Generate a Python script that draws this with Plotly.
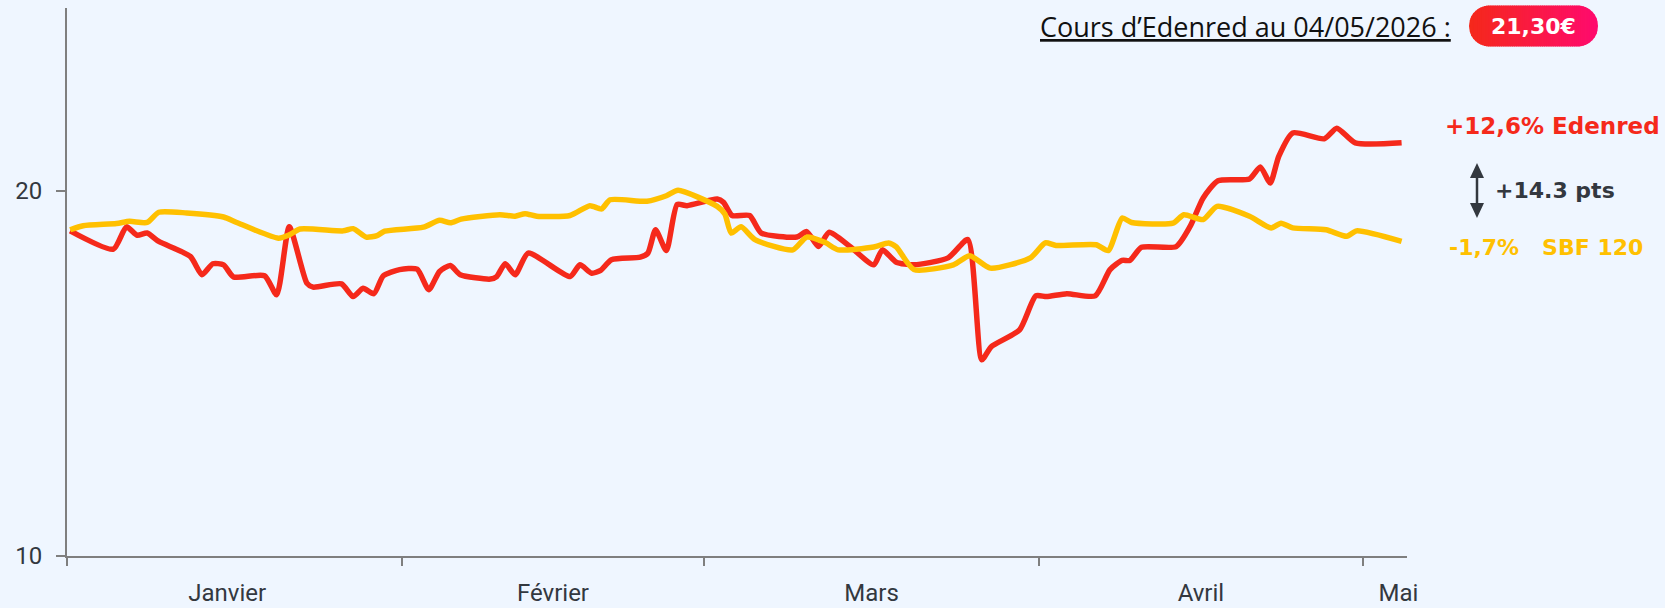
import plotly.graph_objects as go

# ---------------- data ----------------
red_dates = [
    "2026-01-01 07:00", "2026-01-05 07:00", "2026-01-06 12:00", "2026-01-07 12:00", "2026-01-08 10:00", "2026-01-09 12:00",
    "2026-01-12 10:00", "2026-01-13 12:00", "2026-01-14 12:00", "2026-01-15 12:00", "2026-01-16 10:00",
    "2026-01-19 07:00", "2026-01-20 10:00", "2026-01-21 14:00", "2026-01-23 05:00", "2026-01-23 19:00",
    "2026-01-26 10:00", "2026-01-27 12:00", "2026-01-28 10:00", "2026-01-29 10:00", "2026-01-30 07:00", "2026-01-31 19:00",
    "2026-02-02 10:00", "2026-02-03 12:00", "2026-02-04 12:00", "2026-02-05 12:00", "2026-02-06 10:00",
    "2026-02-09 05:00", "2026-02-09 19:00", "2026-02-10 14:00", "2026-02-11 12:00", "2026-02-12 17:00",
    "2026-02-16 14:00", "2026-02-17 12:00", "2026-02-18 14:00", "2026-02-19 10:00", "2026-02-20 10:00",
    "2026-02-23 02:00", "2026-02-23 19:00", "2026-02-24 12:00", "2026-02-25 12:00", "2026-02-26 12:00", "2026-02-27 10:00",
    "2026-03-02 05:00", "2026-03-02 19:00", "2026-03-03 14:00", "2026-03-05 05:00", "2026-03-06 07:00",
    "2026-03-09 14:00", "2026-03-10 12:00", "2026-03-11 14:00", "2026-03-12 14:00", "2026-03-14 12:00",
    "2026-03-16 17:00", "2026-03-17 12:00", "2026-03-18 19:00", "2026-03-20 10:00",
    "2026-03-23 14:00", "2026-03-25 10:00", "2026-03-26 17:00", "2026-03-27 14:00", "2026-03-30 05:00", "2026-03-31 17:00",
    "2026-04-01 17:00", "2026-04-03 14:00", "2026-04-06 05:00", "2026-04-07 14:00", "2026-04-08 17:00", "2026-04-09 10:00", "2026-04-10 12:00",
    "2026-04-13 17:00", "2026-04-15 00:00", "2026-04-16 05:00", "2026-04-17 14:00",
    "2026-04-20 12:00", "2026-04-21 12:00", "2026-04-22 10:00", "2026-04-23 05:00", "2026-04-24 12:00",
    "2026-04-27 10:00", "2026-04-28 14:00", "2026-04-30 07:00", "2026-05-04 14:00",
]
red_values = [
    18.90, 18.40, 19.01, 18.78, 18.84, 18.61,
    18.20, 17.70, 18.00, 17.97, 17.64,
    17.67, 17.15, 19.01, 17.47, 17.36,
    17.45, 17.10, 17.33, 17.18, 17.67, 17.84,
    17.85, 17.29, 17.79, 17.95, 17.70,
    17.58, 17.65, 18.00, 17.70, 18.29,
    17.65, 17.97, 17.74, 17.82, 18.11,
    18.18, 18.29, 18.93, 18.36, 19.62, 19.59,
    19.77, 19.68, 19.32, 19.32, 18.84,
    18.73, 18.88, 18.47, 18.86, 18.47,
    17.97, 18.38, 18.04, 17.97,
    18.16, 18.66, 15.37, 15.73, 16.19, 17.12,
    17.10, 17.18, 17.12, 17.84, 18.09, 18.09, 18.45,
    18.47, 19.02, 19.80, 20.27,
    20.32, 20.65, 20.21, 20.94, 21.58,
    21.42, 21.71, 21.31, 21.31,
]

sbf_dates = [
    "2026-01-01 07:00", "2026-01-02 12:00", "2026-01-05 14:00", "2026-01-06 19:00", "2026-01-08 10:00", "2026-01-09 12:00",
    "2026-01-12 02:00", "2026-01-15 12:00", "2026-01-16 17:00", "2026-01-20 14:00", "2026-01-21 14:00", "2026-01-22 14:00",
    "2026-01-26 14:00", "2026-01-27 12:00", "2026-01-28 17:00", "2026-01-29 17:00", "2026-01-30 10:00",
    "2026-02-03 00:00", "2026-02-04 12:00", "2026-02-05 12:00", "2026-02-06 12:00",
    "2026-02-10 02:00", "2026-02-11 12:00", "2026-02-12 10:00", "2026-02-13 12:00",
    "2026-02-16 14:00", "2026-02-18 10:00", "2026-02-19 12:00", "2026-02-20 07:00",
    "2026-02-23 17:00", "2026-02-25 12:00", "2026-02-26 14:00",
    "2026-03-02 05:00", "2026-03-02 22:00", "2026-03-03 12:00", "2026-03-04 10:00", "2026-03-05 17:00",
    "2026-03-09 05:00", "2026-03-10 12:00", "2026-03-12 05:00", "2026-03-13 10:00",
    "2026-03-16 17:00", "2026-03-18 02:00", "2026-03-18 19:00", "2026-03-20 10:00",
    "2026-03-24 02:00", "2026-03-25 14:00", "2026-03-27 12:00", "2026-03-31 05:00",
    "2026-04-01 14:00", "2026-04-02 14:00", "2026-04-06 07:00", "2026-04-07 10:00", "2026-04-08 17:00", "2026-04-09 14:00",
    "2026-04-13 10:00", "2026-04-14 10:00", "2026-04-16 05:00", "2026-04-17 12:00",
    "2026-04-20 12:00", "2026-04-22 12:00", "2026-04-23 10:00", "2026-04-24 12:00",
    "2026-04-27 14:00", "2026-04-29 12:00", "2026-04-30 10:00", "2026-05-04 14:00",
]
sbf_values = [
    18.93, 19.04, 19.10, 19.16, 19.13, 19.41,
    19.39, 19.28, 19.13, 18.70, 18.79, 18.95,
    18.90, 18.96, 18.73, 18.77, 18.89,
    19.00, 19.19, 19.12, 19.22,
    19.34, 19.30, 19.37, 19.30,
    19.32, 19.59, 19.50, 19.75,
    19.71, 19.86, 20.01,
    19.57, 19.36, 18.84, 19.01, 18.66,
    18.38, 18.73, 18.58, 18.38,
    18.46, 18.57, 18.46, 17.84,
    17.97, 18.22, 17.88, 18.16,
    18.57, 18.50, 18.52, 18.36, 19.25, 19.13,
    19.11, 19.34, 19.21, 19.57,
    19.30, 18.98, 19.11, 18.98,
    18.93, 18.75, 18.90, 18.61,
]

month_starts = ["2026-01-01", "2026-02-01", "2026-03-01", "2026-04-01", "2026-05-01"]
month_labels = ["Janvier", "Février", "Mars", "Avril", "Mai"]
month_label_pos = ["2026-01-15 20:00", "2026-02-15 00:00", "2026-03-16 12:00", "2026-04-16 00:00", "2026-05-04 07:00"]
y_ticks = [10, 20]

title_text = "Cours d’Edenred au 04/05/2026 :"
price_text = "21,30€"
edenred_label = "+12,6% Edenred"
gap_label = "+14.3 pts"
sbf_label = "-1,7%   SBF 120"

# ---------------- style ----------------
W, H = 1665, 608
ML, MR, MT, MB = 67, 258, 8, 52
PW, PH = W - ML - MR, H - MT - MB
BG = "#EFF6FF"
RED = "#F5291B"
YEL = "#FFC000"
DARK = "#33383F"
AXIS = "#7F7F7F"


def px(xp):
    return (xp - ML) / PW


def py(yp):
    return (H - MB - yp) / PH


def ppath(points):
    return "M " + " L ".join(f"{px(a):.5f},{py(b):.5f}" for a, b in points) + " Z"


fig = go.Figure()
fig.add_trace(go.Scatter(x=red_dates, y=red_values, mode="lines",
                         line=dict(color=RED, width=5.5, shape="spline", smoothing=0.6),
                         hoverinfo="skip", showlegend=False))
fig.add_trace(go.Scatter(x=sbf_dates, y=sbf_values, mode="lines",
                         line=dict(color=YEL, width=5.5, shape="spline", smoothing=0.6),
                         hoverinfo="skip", showlegend=False))

shapes = []
# gradient pill
x0, x1, y0, y1 = 1469.0, 1598.0, 5.5, 46.5
r = (y1 - y0) / 2
cy = (y0 + y1) / 2
c_left = (245, 40, 26)
c_right = (255, 10, 110)
N = 60
step = (x1 - x0) / N


def half_h(x):
    if x < x0 + r:
        d = x0 + r - x
        return max(0.0, (r * r - d * d)) ** 0.5
    if x > x1 - r:
        d = x - (x1 - r)
        return max(0.0, (r * r - d * d)) ** 0.5
    return r


for i in range(N):
    xa = x0 + i * step
    xb = min(x1, xa + step + 0.8)
    t = (i + 0.5) / N
    col = tuple(int(round(c_left[k] + (c_right[k] - c_left[k]) * t)) for k in range(3))
    samples = [xa + (xb - xa) * j / 4 for j in range(5)]
    top = [(s, cy - half_h(s)) for s in samples]
    bot = [(s, cy + half_h(s)) for s in reversed(samples)]
    shapes.append(dict(type="path", xref="paper", yref="paper", path=ppath(top + bot),
                       fillcolor=f"rgb{col}", line=dict(width=0), layer="above"))

# double-headed arrow
ax_x, a_top, a_bot, head_h, head_w = 1477.0, 163.0, 218.0, 15.0, 7.0
shapes.append(dict(type="line", xref="paper", yref="paper",
                   x0=px(ax_x), x1=px(ax_x), y0=py(a_top + head_h - 1), y1=py(a_bot - head_h + 1),
                   line=dict(color=DARK, width=2.5), layer="above"))
shapes.append(dict(type="path", xref="paper", yref="paper",
                   path=ppath([(ax_x, a_top), (ax_x + head_w, a_top + head_h), (ax_x - head_w, a_top + head_h)]),
                   fillcolor=DARK, line=dict(width=0), layer="above"))
shapes.append(dict(type="path", xref="paper", yref="paper",
                   path=ppath([(ax_x, a_bot), (ax_x + head_w, a_bot - head_h), (ax_x - head_w, a_bot - head_h)]),
                   fillcolor=DARK, line=dict(width=0), layer="above"))

annotations = [
    dict(x=px(1453), y=py(26), xref="paper", yref="paper", xanchor="right", yanchor="middle",
         text=title_text, showarrow=False,
         font=dict(family="Open Sans", size=27, color="#111111", lineposition="under")),
    dict(x=px((x0 + x1) / 2), y=py(cy), xref="paper", yref="paper", xanchor="center", yanchor="middle",
         text=f"<b>{price_text}</b>", showarrow=False,
         font=dict(family="DejaVu Sans", size=22, color="white")),
    dict(x=px(1443), y=py(126), xref="paper", yref="paper", xanchor="left", yanchor="middle",
         text=f"<b>{edenred_label}</b>", showarrow=False,
         font=dict(family="DejaVu Sans", size=23, color=RED)),
    dict(x=px(1493), y=py(191), xref="paper", yref="paper", xanchor="left", yanchor="middle",
         text=f"<b>{gap_label}</b>", showarrow=False,
         font=dict(family="DejaVu Sans", size=22, color=DARK)),
    dict(x=px(1447), y=py(247), xref="paper", yref="paper", xanchor="left", yanchor="middle",
         text=f"<b>{sbf_label}</b>", showarrow=False,
         font=dict(family="DejaVu Sans", size=22, color=YEL)),
]

fig.update_layout(
    width=W, height=H, autosize=False,
    margin=dict(l=ML, r=MR, t=MT, b=MB, pad=0, autoexpand=False),
    paper_bgcolor=BG, plot_bgcolor=BG,
    font=dict(family="Roboto", color=DARK),
    shapes=shapes, annotations=annotations,
    showlegend=False,
)
fig.update_xaxes(
    type="date", range=["2026-01-01", "2026-05-05 02:00"],
    tickmode="array", tickvals=month_label_pos, ticktext=month_labels,
    ticks="", ticklabelstandoff=14, automargin=False,
    tickfont=dict(family="Roboto", size=24, color=DARK),
    minor=dict(tickmode="array", tickvals=month_starts, ticks="outside", ticklen=8,
               tickwidth=1.5, tickcolor=AXIS, showgrid=False),
    showline=True, linecolor=AXIS, linewidth=2,
    showgrid=False, zeroline=False,
)
fig.update_yaxes(
    range=[10, 25], tickmode="array", tickvals=y_ticks,
    ticks="outside", ticklen=9, tickwidth=2, tickcolor=AXIS,
    ticklabelstandoff=9, automargin=False,
    tickfont=dict(family="Roboto", size=24, color=DARK),
    showline=True, linecolor=AXIS, linewidth=2,
    showgrid=False, zeroline=False,
)

fig.write_html(
    "out.html",
    config={"displayModeBar": False, "staticPlot": True},
    post_script="document.body.style.margin='0';document.body.style.overflow='hidden';"
                "document.documentElement.style.background='" + BG + "';",
)
